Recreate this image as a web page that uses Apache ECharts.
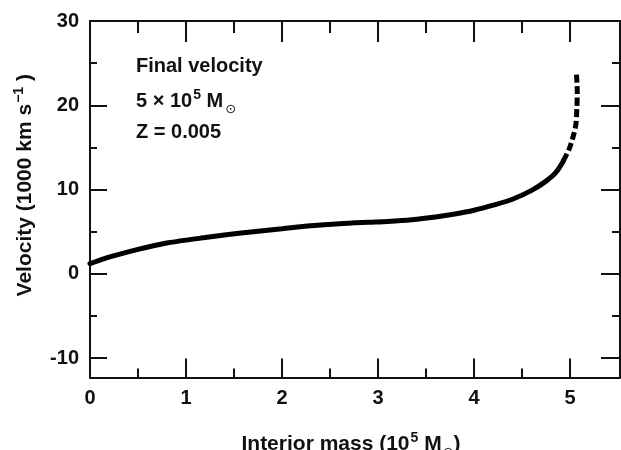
<!DOCTYPE html>
<html>
<head>
<meta charset="utf-8">
<script src="https://cdn.jsdelivr.net/npm/echarts@6/dist/echarts.min.js"></script>
<style>html,body{margin:0;padding:0;background:#fff;}#c{width:621px;height:450px;}</style>
</head>
<body>
<div id="c"></div>
<script>
// Data
var solidCurve = [
  [0, 1.2], [0.15, 1.8], [0.3, 2.3], [0.5, 2.9], [0.65, 3.3], [0.8, 3.65],
  [1.0, 4.0], [1.2, 4.3], [1.4, 4.6], [1.7, 5.0], [2.0, 5.35], [2.3, 5.7],
  [2.6, 5.95], [2.9, 6.12], [3.1, 6.22], [3.35, 6.42], [3.6, 6.75], [3.8, 7.1],
  [4.0, 7.55], [4.2, 8.15], [4.4, 8.85], [4.6, 9.9], [4.75, 11.0], [4.85, 12.0],
  [4.93, 13.4]
];
var dashedCurve = [
  [4.93, 13.4], [4.99, 14.8], [5.03, 16.2], [5.06, 17.7], [5.07, 19.5],
  [5.075, 21.5], [5.07, 23.0], [5.065, 24.0]
];
var xMajorTicks = [0, 1, 2, 3, 4, 5];
var xMinorTicks = [0.5, 1.5, 2.5, 3.5, 4.5];
var yMajorTicks = [-10, 0, 10, 20, 30];
var yMinorTicks = [-5, 5, 15, 25];
var xRange = [0, 5.52];
var yRange = [-12.3, 30];

var FONT = '"Liberation Sans", Arial, "DejaVu Sans", sans-serif';
var INK = '#111';

function xAxisDef(pos, ticks, len, isMain) {
  return {
    type: 'value', position: pos, min: xRange[0], max: xRange[1],
    splitLine: { show: false },
    axisLine: { show: isMain, onZero: false, lineStyle: { color: INK, width: 2 } },
    axisTick: { show: true, inside: true, length: len, customValues: ticks, lineStyle: { color: INK, width: 2 } },
    axisLabel: (isMain && pos === 'bottom') ? {
      show: true, customValues: ticks, margin: 11, color: INK,
      fontFamily: FONT, fontWeight: 'bold', fontSize: 20
    } : { show: false }
  };
}
function yAxisDef(pos, ticks, len, isMain) {
  return {
    type: 'value', position: pos, min: yRange[0], max: yRange[1],
    splitLine: { show: false },
    axisLine: { show: isMain, onZero: false, lineStyle: { color: INK, width: 2 } },
    axisTick: { show: true, inside: true, length: len, customValues: ticks, lineStyle: { color: INK, width: 2 } },
    axisLabel: (isMain && pos === 'left') ? {
      show: true, customValues: ticks, margin: 11, color: INK,
      fontFamily: FONT, fontWeight: 'bold', fontSize: 20
    } : { show: false }
  };
}

var xMain = xAxisDef('bottom', xMajorTicks, 19, true);
xMain.name = '{t|Interior mass (10}{sup|5}{t| M}{sub|\u2299}{t|)}';
xMain.nameLocation = 'middle';
xMain.nameGap = 52;
xMain.nameTextStyle = {
  color: INK, fontFamily: FONT, fontWeight: 'bold', fontSize: 21,
  padding: [0, 8, 0, 0],
  rich: {
    t: { fontFamily: FONT, fontWeight: 'bold', fontSize: 21, color: INK, lineHeight: 30 },
    sup: { fontFamily: FONT, fontWeight: 'bold', fontSize: 14, color: INK, lineHeight: 14, verticalAlign: 'top', padding: [2, 0, 0, 1] },
    sub: { fontFamily: '"DejaVu Sans", sans-serif', fontWeight: 'normal', fontSize: 13, color: INK, lineHeight: 13, verticalAlign: 'bottom', padding: [0, 0, 0, 1] }
  }
};

var yMain = yAxisDef('left', yMajorTicks, 17, true);
yMain.name = '{t|Velocity (1000 km s}{sup|\u22121}{t| )}';
yMain.nameLocation = 'middle';
yMain.nameRotate = 90;
yMain.nameGap = 51;
yMain.nameTextStyle = {
  color: INK, fontFamily: FONT, fontWeight: 'bold', fontSize: 21,
  padding: [0, 0, 0, 28],
  rich: {
    t: { fontFamily: FONT, fontWeight: 'bold', fontSize: 21, color: INK, lineHeight: 28 },
    sup: { fontFamily: FONT, fontWeight: 'bold', fontSize: 14, color: INK, lineHeight: 14, verticalAlign: 'top', padding: [1, 0, 0, 1] }
  }
};

var option = {
  backgroundColor: '#fff',
  animation: false,
  grid: { left: 90, right: 1, top: 21, bottom: 72.5, containLabel: false, outerBoundsMode: 'none' },
  xAxis: [
    xMain,
    xAxisDef('bottom', xMinorTicks, 9, false),
    xAxisDef('top', xMajorTicks, 21, true),
    xAxisDef('top', xMinorTicks, 12, false)
  ],
  yAxis: [
    yMain,
    yAxisDef('left', yMinorTicks, 7, false),
    yAxisDef('right', yMajorTicks, 19, true),
    yAxisDef('right', yMinorTicks, 8, false)
  ],
  graphic: [
    {
      type: 'text', left: 136, top: 56,
      style: { text: 'Final velocity', fill: INK, font: 'bold 20px ' + FONT }
    },
    {
      type: 'text', left: 136, top: 86,
      style: {
        text: '{t|5 \u00d7 10}{sup|5}{t| M}{sub|\u2299}',
        rich: {
          t: { fontFamily: FONT, fontWeight: 'bold', fontSize: 20, fill: INK, lineHeight: 30 },
          sup: { fontFamily: FONT, fontWeight: 'bold', fontSize: 14, fill: INK, lineHeight: 14, verticalAlign: 'top', padding: [2, 0, 0, 1] },
          sub: { fontFamily: '"DejaVu Sans", sans-serif', fontSize: 13, fill: INK, lineHeight: 13, verticalAlign: 'bottom', padding: [0, 0, 0, 2] }
        }
      }
    },
    {
      type: 'text', left: 136, top: 122,
      style: { text: 'Z = 0.005', fill: INK, font: 'bold 20px ' + FONT }
    }
  ],
  series: [
    {
      type: 'line', xAxisIndex: 0, yAxisIndex: 0, data: solidCurve,
      showSymbol: false, symbol: 'none', smooth: 0.3,
      lineStyle: { color: '#000', width: 5, type: 'solid', cap: 'round' }
    },
    {
      type: 'line', xAxisIndex: 0, yAxisIndex: 0, data: dashedCurve,
      showSymbol: false, symbol: 'none', smooth: 0.3,
      lineStyle: { color: '#000', width: 5, type: [8, 3.5], cap: 'butt' }
    }
  ]
};
var chart = echarts.init(document.getElementById('c'), null, { renderer: 'canvas' });
chart.setOption(option);
</script>
</body>
</html>
